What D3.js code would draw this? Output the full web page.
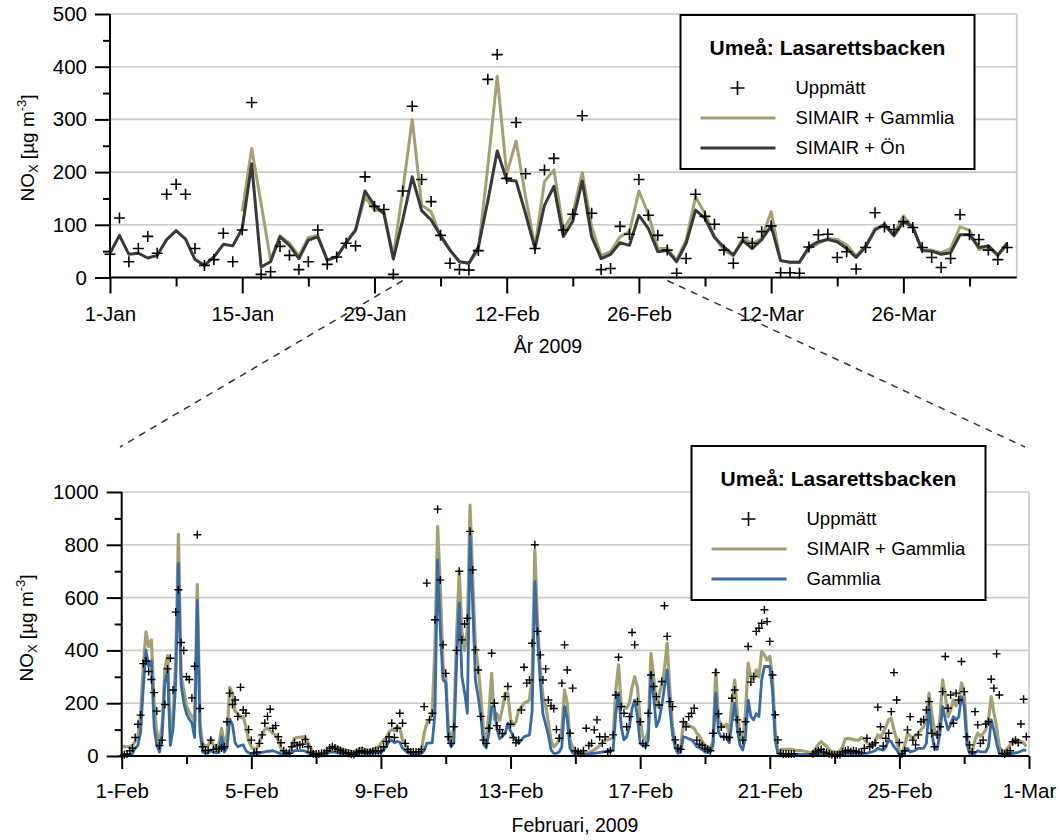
<!DOCTYPE html>
<html>
<head>
<meta charset="utf-8">
<script src="https://cdn.jsdelivr.net/npm/d3@7"></script>
<style>
  body { margin: 0; background: #fff; }
  svg { display: block; font-family: "Liberation Sans", Arial, sans-serif; }
</style>
</head>
<body>
<svg id="chart" width="1060" height="840"></svg>
<script>
// ---------- Daily means, 1 Jan – 6 Apr 2009 (µg/m³) ----------
const dailyMeasured = [
  44, 113, 30, 55, 78, 46, 158, 177, 158, 55, 23, 34, 84, 30,
  90, 332, 6, 11, 59, 42, 15, 30, 90, 25, 39, 65, 60, 191,
  135, 129, 6, 164, 325, 186, 144, 80, 27, 15, 14, 51, 376, 423,
  188, 294, 197, 55, 204, 226, 90, 120, 307, 122, 15, 17, 97, 82,
  186, 118, 80, 52, 8, 36, 158, 116, 101, 52, 27, 76, 65, 87,
  98, 9, 9, 8, 58, 81, 82, 38, 49, 16, 57, 123, 96, 91,
  106, 95, 57, 38, 19, 36, 119, 81, 72, 52, 34, 57
];
const dailySimairGammlia = [
  null, null, null, null, null, null, null, null, null, null, null, null, null, null,
  125, 245, 140, 33, 79, 65, 41, 76, 80, 33, 39, 66, 90, 153,
  128, 125, 40, 165, 300, 137, 125, 77, 52, 30, 27, 52, 210, 382,
  197, 259, 153, 58, 182, 204, 90, 121, 199, 96, 42, 49, 77, 87,
  164, 121, 55, 55, 33, 71, 153, 121, 78, 52, 41, 74, 65, 74,
  125, 32, 29, 29, 55, 64, 74, 72, 62, 41, 60, 93, 98, 82,
  117, 95, 52, 52, 47, 55, 96, 90, 53, 58, 41, 62
];
const dailySimairOn = [
  46, 80, 44, 46, 37, 42, 72, 89, 73, 34, 23, 39, 63, 60,
  93, 216, 20, 30, 77, 61, 36, 71, 77, 33, 39, 66, 90, 164,
  137, 121, 35, 110, 191, 127, 109, 80, 52, 30, 27, 58, 145, 240,
  185, 183, 121, 55, 137, 173, 78, 107, 183, 77, 36, 44, 66, 61,
  118, 93, 49, 51, 30, 65, 128, 112, 76, 58, 43, 70, 55, 72,
  98, 32, 29, 29, 58, 68, 72, 68, 55, 38, 58, 90, 101, 79,
  106, 96, 51, 50, 44, 47, 81, 81, 57, 60, 43, 65
];
const dailyTickLabels = ["1-Jan", "15-Jan", "29-Jan", "12-Feb", "26-Feb", "12-Mar", "26-Mar"];

// ---------- Two-hourly values, February 2009 (one row per day, 00–22 h) ----------
const febMeasured = [
  0, 5, 8, 20, 30, 70, 120, 155, 350, 360, 320, 290,
  240, 170, 40, 60, 195, 330, 370, 250, 545, 630, 430, 400,
  300, 290, 220, 340, 838, 180, 35, 20, 22, 60, 25, 30,
  25, 30, 35, 130, 238, 195, 212, 150, 260, 174, 162, 100,
  60, 12, 15, 48, 80, 124, 150, 177, 105, 115, 73, 50,
  20, 12, 10, 35, 50, 40, 42, 45, 63, 35, 15, 8,
  8, 8, 10, 10, 20, 30, 35, 30, 25, 20, 15, 12,
  10, 8, 6, 12, 18, 20, 15, 12, 14, 18, 20, 20,
  20, 35, 55, 73, 124, 70, 105, 162, 124, 48, 25, 15,
  15, 15, 15, 25, 187, 655, 137, 162, 516, 935, 667, 421,
  313, 73, 48, 111, 400, 700, 440, 500, 522, 851, 705, 402,
  326, 150, 60, 48, 105, 389, 200, 115, 100, 85, 225, 263,
  120, 70, 50, 60, 174, 336, 276, 288, 427, 800, 472, 383,
  288, 330, 212, 190, 180, 100, 67, 276, 421, 326, 86, 257,
  20, 16, 10, 20, 105, 40, 48, 99, 137, 73, 48, 73,
  15, 20, 80, 231, 374, 187, 162, 111, 149, 468, 421, 206,
  130, 48, 40, 162, 307, 263, 225, 193, 282, 569, 453, 206,
  187, 61, 30, 25, 130, 111, 149, 162, 181, 60, 45, 40,
  30, 25, 20, 86, 316, 160, 110, 73, 73, 70, 219, 250,
  137, 92, 60, 130, 415, 280, 301, 472, 484, 503, 554, 509,
  434, 307, 156, 61, 10, 8, 8, 8, 8, 8, null, null,
  null, null, null, null, 8, 15, 20, 25, 15, 12, 8, 5,
  5, 5, 5, 15, 20, 22, 16, 20, 18, 14, 12, 29,
  67, 35, 42, 50, 185, 111, 38, 67, 86, 168, 316, 212,
  51, 8, 20, 99, 149, 60, 42, 80, 130, 137, 174, 206,
  86, 35, 80, 111, 244, 377, 181, 231, 124, 238, 212, 358,
  244, 73, 42, 15, 168, 118, 48, 60, 121, 130, 291, 257,
  387, 231, 10, 8, 12, 20, 54, 60, 50, 121, 215, 73
];
const febSimairGammlia = [
  38, 35, 35, 35, 40, 55, 75, 160, 340, 470, 415, 440,
  200, 90, 50, 120, 330, 380, 90, 150, 350, 840, 300, 250,
  190, 165, 150, 130, 650, 120, 45, 38, 38, 65, 40, 38,
  45, 105, 40, 80, 260, 238, 170, 160, 145, 150, 110, 60,
  35, 25, 30, 50, 80, 100, 105, 95, 86, 80, 60, 30,
  16, 12, 10, 40, 67, 70, 71, 73, 72, 50, 30, 15,
  8, 8, 10, 12, 15, 25, 35, 35, 33, 30, 25, 22,
  20, 18, 16, 22, 28, 30, 25, 22, 20, 25, 30, 32,
  48, 60, 70, 90, 100, 95, 110, 105, 60, 45, 25, 15,
  10, 10, 12, 20, 86, 124, 137, 162, 415, 870, 640, 339,
  300, 100, 60, 110, 450, 700, 470, 400, 478, 950, 667, 415,
  339, 230, 90, 60, 162, 313, 140, 160, 135, 180, 238, 238,
  140, 115, 130, 174, 185, 200, 205, 212, 300, 780, 500, 330,
  225, 190, 130, 60, 35, 45, 60, 100, 250, 200, 60, 35,
  20, 14, 10, 10, 10, 12, 18, 23, 30, 40, 50, 60,
  61, 65, 70, 250, 345, 190, 187, 181, 200, 260, 301, 260,
  137, 73, 61, 99, 389, 301, 187, 230, 270, 330, 427, 250,
  110, 50, 20, 30, 124, 124, 115, 111, 105, 86, 75, 55,
  40, 35, 25, 60, 326, 140, 120, 111, 120, 90, 200, 288,
  162, 80, 61, 162, 351, 300, 290, 326, 300, 396, 383, 364,
  377, 300, 100, 16, 23, 25, 25, 25, 25, 23, 20, 20,
  20, 18, 15, 13, 15, 30, 45, 54, 45, 38, 25, 16,
  14, 10, 20, 35, 65, 67, 65, 62, 60, 60, 70, 63,
  50, 45, 38, 50, 80, 70, 90, 110, 137, 143, 99, 61,
  16, 12, 40, 86, 75, 65, 80, 86, 100, 110, 137, 238,
  162, 99, 73, 137, 288, 230, 149, 174, 212, 190, 210, 276,
  240, 80, 23, 18, 61, 86, 75, 85, 99, 137, 225, 165,
  111, 35, 20, 18, 29, 42, 54, 61, 60, 55, 50, 35
];
const febGammlia = [
  4, 4, 4, 5, 10, 30, 40, 90, 260, 400, 340, 360,
  110, 40, 15, 80, 280, 320, 40, 100, 280, 730, 270, 200,
  160, 140, 125, 70, 590, 90, 15, 10, 12, 20, 15, 12,
  15, 73, 15, 30, 140, 120, 50, 35, 40, 42, 20, 12,
  8, 8, 8, 10, 14, 16, 18, 18, 20, 16, 12, 8,
  8, 5, 5, 15, 20, 20, 20, 20, 18, 12, 8, 6,
  6, 6, 6, 8, 10, 14, 16, 15, 12, 10, 10, 10,
  8, 8, 8, 10, 12, 12, 10, 10, 10, 12, 12, 14,
  12, 25, 35, 55, 60, 50, 55, 52, 30, 20, 12, 10,
  8, 8, 8, 10, 20, 48, 50, 50, 160, 743, 470, 288,
  280, 60, 35, 50, 350, 580, 300, 240, 162, 838, 566, 288,
  225, 150, 45, 30, 86, 187, 187, 100, 65, 75, 86, 124,
  95, 75, 60, 48, 60, 73, 76, 80, 170, 660, 450, 280,
  160, 120, 80, 23, 10, 10, 15, 35, 187, 140, 30, 12,
  8, 5, 4, 4, 6, 8, 10, 10, 12, 14, 16, 16,
  20, 22, 23, 162, 238, 110, 61, 73, 110, 180, 212, 150,
  48, 40, 35, 60, 313, 225, 111, 135, 190, 260, 326, 180,
  80, 30, 10, 15, 73, 70, 65, 61, 50, 35, 30, 25,
  15, 14, 14, 40, 238, 90, 73, 73, 70, 50, 130, 200,
  99, 40, 23, 73, 212, 150, 137, 160, 150, 288, 339, 339,
  339, 250, 60, 10, 8, 6, 6, 6, 6, 6, 6, 6,
  6, 6, 6, 6, 6, 8, 8, 6, 5, 4, 4, 4,
  5, 5, 6, 8, 10, 10, 10, 10, 10, 10, 10, 10,
  10, 14, 16, 20, 29, 25, 22, 35, 61, 54, 35, 23,
  4, 4, 15, 29, 16, 18, 22, 29, 29, 30, 48, 187,
  86, 29, 25, 86, 187, 140, 99, 120, 149, 137, 149, 225,
  190, 45, 10, 4, 10, 20, 16, 16, 16, 35, 137, 99,
  48, 10, 6, 4, 6, 8, 10, 12, 14, 18, 23, 20
];
const febTickLabels = ["1-Feb", "5-Feb", "9-Feb", "13-Feb", "17-Feb", "21-Feb", "25-Feb", "1-Mar"];

// ---------- Shared styling ----------
const COLORS = { measured: "#000000", simGammlia: "#a3a173", simOn: "#393939", gammlia: "#3a6aa2", grid: "#c9c9c9" };
const HOUR = 36e5, DAY = 864e5;
const svg = d3.select("#chart");

function drawPanel(cfg) {
  const { x, y, yTicks, yMinor, xMajor, xMinor, xLabels, majorLen, minorLen, xPad } = cfg;
  const [x0, x1] = x.range();
  const [yb, yt] = y.range();
  const g = svg.append("g");

  // horizontal gridlines and right frame
  g.selectAll("line.grid").data(yTicks.filter(v => v > 0)).join("line")
    .attr("x1", x0).attr("x2", x1).attr("y1", d => y(d)).attr("y2", d => y(d))
    .attr("stroke", COLORS.grid).attr("stroke-width", 1.6);
  g.append("line").attr("x1", x1).attr("x2", x1).attr("y1", yt).attr("y2", yb)
    .attr("stroke", COLORS.grid).attr("stroke-width", 1.6);

  // series lines
  const line = d3.line().defined(d => d.v != null).x(d => x(d.t)).y(d => y(d.v));
  cfg.lines.forEach(s => {
    g.append("path").datum(s.data).attr("d", line).attr("fill", "none")
      .attr("stroke", s.color).attr("stroke-width", s.width).attr("stroke-linejoin", "round");
  });

  // measured values as crosses
  const s = cfg.crossSize;
  g.selectAll("path.cross").data(cfg.points.filter(d => d.v != null)).join("path")
    .attr("d", d => `M${x(d.t) - s},${y(d.v)}h${2 * s}M${x(d.t)},${y(d.v) - s}v${2 * s}`)
    .attr("stroke", COLORS.measured).attr("stroke-width", cfg.crossWidth).attr("fill", "none");

  // axes
  const fmtMajor = (d, i) => xLabels[i];
  const axX = g.append("g").attr("transform", `translate(0,${yb})`)
    .call(d3.axisBottom(x).tickValues(xMajor).tickFormat(fmtMajor).tickSize(majorLen).tickPadding(xPad));
  const axXm = g.append("g").attr("transform", `translate(0,${yb})`)
    .call(d3.axisBottom(x).tickValues(xMinor).tickFormat("").tickSize(minorLen));
  const axY = g.append("g").attr("transform", `translate(${x0},0)`)
    .call(d3.axisLeft(y).tickValues(yTicks).tickFormat(d3.format("d")).tickSize(15).tickPadding(8));
  const axYm = g.append("g").attr("transform", `translate(${x0},0)`)
    .call(d3.axisLeft(y).tickValues(yMinor).tickFormat("").tickSize(7));
  [axX, axXm, axY, axYm].forEach(a => {
    a.select(".domain").attr("stroke", "#000").attr("stroke-width", 2);
    a.selectAll(".tick line").attr("stroke", "#000").attr("stroke-width", 2);
    a.selectAll(".tick text").attr("fill", "#000").attr("font-size", 20.5)
      .attr("font-family", "'Liberation Sans', Arial, sans-serif");
  });
  axXm.select(".domain").remove();
  axYm.select(".domain").remove();
  axX.select(".domain").attr("d", `M${x0},0H${x1}`);
  axY.select(".domain").attr("d", `M0,${yb}V${yt}`);

  // axis titles
  g.append("text").attr("x", cfg.xTitlePos[0]).attr("y", cfg.xTitlePos[1])
    .attr("text-anchor", "middle").attr("font-size", 19.5).text(cfg.xTitle);
  const yl = g.append("text").attr("transform", `translate(${cfg.yTitlePos[0]},${cfg.yTitlePos[1]}) rotate(-90)`)
    .attr("text-anchor", "middle").attr("font-size", 19);
  yl.append("tspan").text("NO");
  yl.append("tspan").attr("font-size", 13).attr("dy", 4).text("X");
  yl.append("tspan").attr("dy", -4).text(" [µg m");
  yl.append("tspan").attr("font-size", 13).attr("dy", -8).text("-3");
  yl.append("tspan").attr("dy", 8).text("]");

  return g;
}

function drawLegend(left, top, entries) {
  const g = svg.append("g").attr("transform", `translate(${left},${top})`);
  g.append("rect").attr("width", 294).attr("height", 154)
    .attr("fill", "#fff").attr("stroke", "#000").attr("stroke-width", 2);
  g.append("text").attr("x", 147).attr("y", 33).attr("dy", "0.35em").attr("text-anchor", "middle")
    .attr("font-size", 21).attr("font-weight", "bold").text("Umeå: Lasarettsbacken");
  entries.forEach((e, i) => {
    const cy = 73 + i * 30;
    if (e.type === "cross") {
      g.append("path").attr("d", `M${57 - 7},${cy}h14M57,${cy - 7}v14`)
        .attr("stroke", "#000").attr("stroke-width", 1.6);
    } else {
      g.append("line").attr("x1", 20).attr("x2", 95).attr("y1", cy).attr("y2", cy)
        .attr("stroke", e.color).attr("stroke-width", 3);
    }
    g.append("text").attr("x", 115).attr("y", cy).attr("dy", "0.35em")
      .attr("font-size", 18.5).text(e.label);
  });
}

// ---------- Upper panel: daily means ----------
const jan1 = Date.UTC(2009, 0, 1);
const dayDate = i => new Date(jan1 + i * DAY);
const xTop = d3.scaleUtc().domain([dayDate(0), dayDate(96)]).range([110, 1016.7]);
const yTop = d3.scaleLinear().domain([0, 500]).range([277.5, 14]);
const asSeries = (arr, toDate) => arr.map((v, i) => ({ t: toDate(i), v }));

drawPanel({
  x: xTop, y: yTop,
  yTicks: d3.range(0, 501, 100), yMinor: d3.range(50, 500, 100),
  xMajor: d3.range(0, 85, 14).map(dayDate), xMinor: d3.range(7, 92, 14).map(dayDate),
  xLabels: dailyTickLabels, majorLen: 16, minorLen: 9, xPad: 13,
  lines: [
    { data: asSeries(dailySimairGammlia, dayDate), color: COLORS.simGammlia, width: 3 },
    { data: asSeries(dailySimairOn, dayDate), color: COLORS.simOn, width: 3 }
  ],
  points: asSeries(dailyMeasured, dayDate), crossSize: 5.5, crossWidth: 1.6,
  xTitle: "År 2009", xTitlePos: [548, 353], yTitlePos: [33.5, 148]
});

// ---------- Lower panel: February, two-hourly ----------
const feb1 = Date.UTC(2009, 1, 1);
const febDate = i => new Date(feb1 + i * 2 * HOUR);
const febDay = d => new Date(feb1 + d * DAY);
const xBot = d3.scaleUtc().domain([febDay(0), febDay(28)]).range([121.7, 1029]);
const yBot = d3.scaleLinear().domain([0, 1000]).range([756, 492]);

drawPanel({
  x: xBot, y: yBot,
  yTicks: d3.range(0, 1001, 200), yMinor: d3.range(100, 1000, 200),
  xMajor: d3.range(0, 29, 4).map(febDay), xMinor: d3.range(2, 28, 4).map(febDay),
  xLabels: febTickLabels, majorLen: 13, minorLen: 8, xPad: 14,
  lines: [
    { data: asSeries(febSimairGammlia, febDate), color: COLORS.simGammlia, width: 3.2 },
    { data: asSeries(febGammlia, febDate), color: COLORS.gammlia, width: 2.8 }
  ],
  points: asSeries(febMeasured, febDate), crossSize: 4, crossWidth: 1.4,
  xTitle: "Februari, 2009", xTitlePos: [575, 832], yTitlePos: [32.5, 628]
});

// ---------- Zoom connectors from the upper axis to the lower panel ----------
const connectors = [
  [xTop(new Date(Date.UTC(2009, 1, 1))), 120],
  [xTop(new Date(Date.UTC(2009, 2, 1))), 1025]
];
connectors.forEach(([xs, xe]) => {
  svg.append("line").attr("x1", xs).attr("y1", yTop(0) + 3).attr("x2", xe).attr("y2", 447)
    .attr("stroke", "#333").attr("stroke-width", 1.5).attr("stroke-dasharray", "7,6");
});

// ---------- Legends ----------
drawLegend(680.5, 15, [
  { type: "cross", label: "Uppmätt" },
  { type: "line", color: COLORS.simGammlia, label: "SIMAIR + Gammlia" },
  { type: "line", color: COLORS.simOn, label: "SIMAIR + Ön" }
]);
drawLegend(691.5, 446, [
  { type: "cross", label: "Uppmätt" },
  { type: "line", color: COLORS.simGammlia, label: "SIMAIR + Gammlia" },
  { type: "line", color: COLORS.gammlia, label: "Gammlia" }
]);
</script>
</body>
</html>
